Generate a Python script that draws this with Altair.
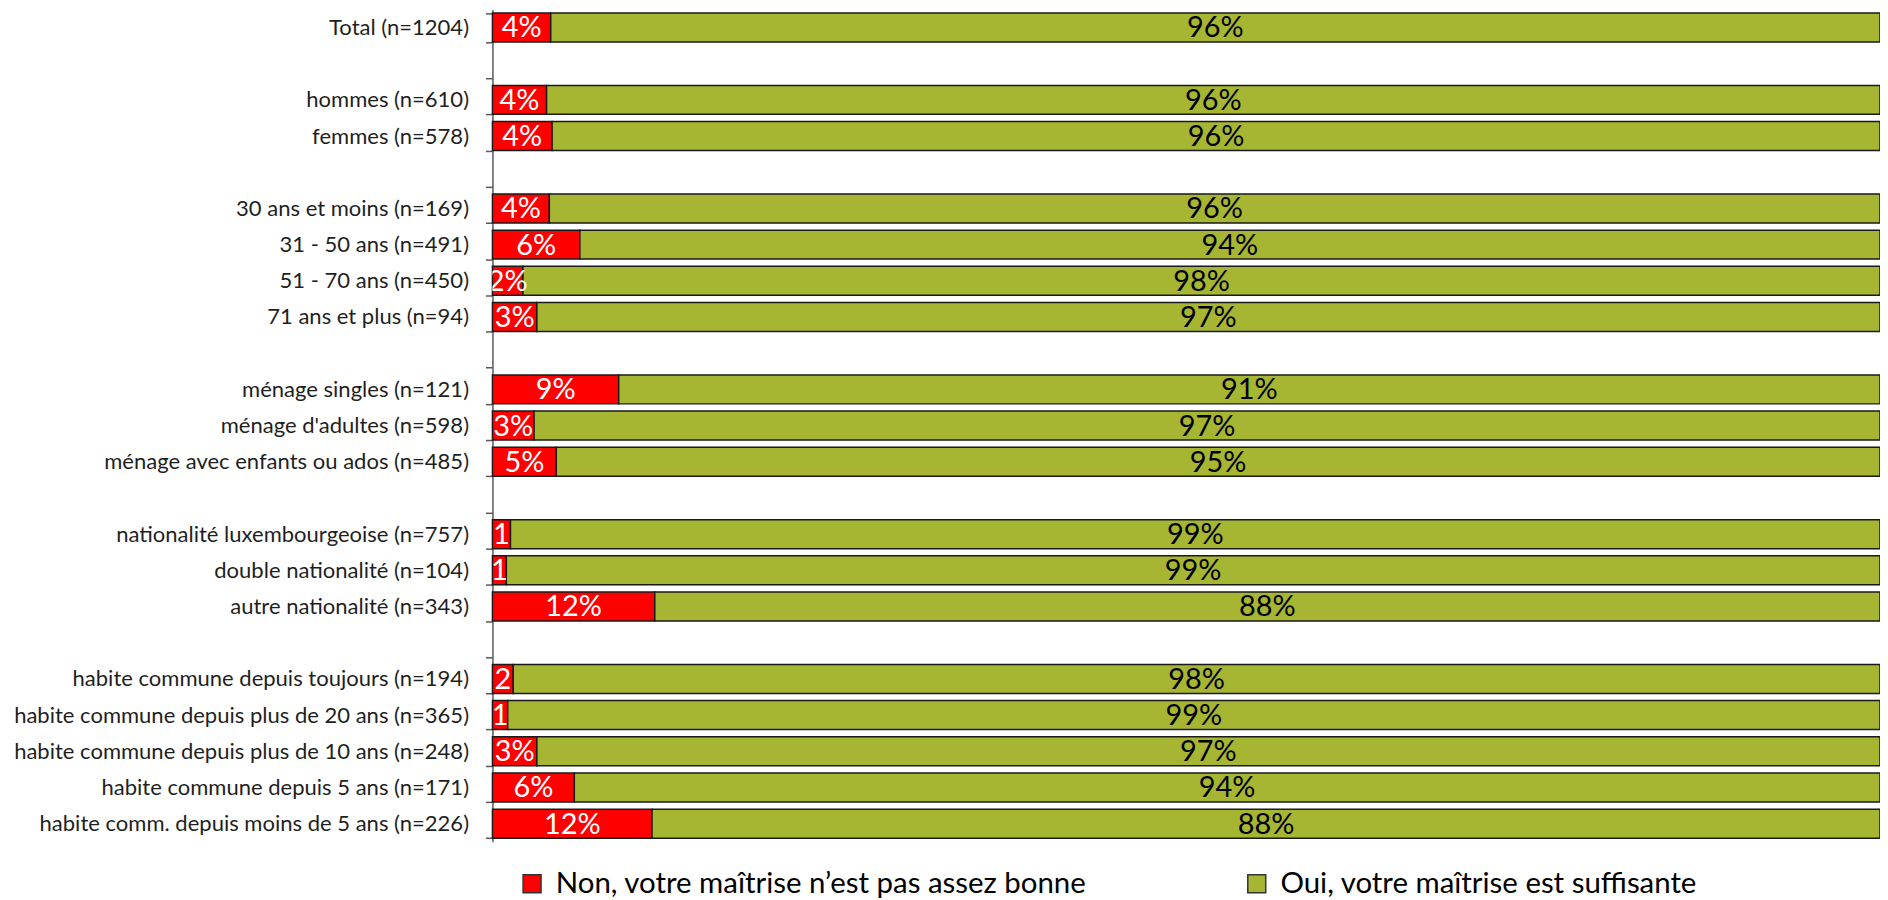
import altair as alt
import pandas as pd

# ---- data ----
order = [
    "Total (n=1204)", " ",
    "hommes (n=610)", "femmes (n=578)", "  ",
    "30 ans et moins (n=169)", "31 - 50 ans (n=491)", "51 - 70 ans (n=450)", "71 ans et plus (n=94)", "   ",
    "ménage singles (n=121)", "ménage d'adultes (n=598)", "ménage avec enfants ou ados (n=485)", "    ",
    "nationalité luxembourgeoise (n=757)", "double nationalité (n=104)", "autre nationalité (n=343)", "     ",
    "habite commune depuis toujours (n=194)", "habite commune depuis plus de 20 ans (n=365)",
    "habite commune depuis plus de 10 ans (n=248)", "habite commune depuis 5 ans (n=171)",
    "habite comm. depuis moins de 5 ans (n=226)",
]
rows = [c for c in order if c.strip()]

non_values = [4.2, 3.9, 4.3, 4.1, 6.3, 2.2, 3.2, 9.1, 3.0, 4.6, 1.3, 1.0, 11.7, 1.5, 1.1, 3.2, 5.9, 11.5]
oui_values = [95.8, 96.1, 95.7, 95.9, 93.7, 97.8, 96.8, 90.9, 97.0, 95.4, 98.7, 99.0, 88.3, 98.5, 98.9, 96.8, 94.1, 88.5]
non_labels = ["4%", "4%", "4%", "4%", "6%", "2%", "3%", "9%", "3%", "5%", "1", "1", "12%", "2", "1", "3%", "6%", "12%"]
oui_labels = ["96%", "96%", "96%", "96%", "94%", "98%", "97%", "91%", "97%", "95%", "99%", "99%", "88%", "98%", "99%", "97%", "94%", "88%"]

series = ["Non, votre maîtrise n’est pas assez bonne", "Oui, votre maîtrise est suffisante"]
colors = ["#FF0000", "#A6B632"]

recs = []
for i, cat in enumerate(rows):
    n, o = non_values[i], oui_values[i]
    recs.append(dict(cat=cat, series=series[0], start=0.0, end=n, mid=n / 2, label=non_labels[i], k=0))
    recs.append(dict(cat=cat, series=series[1], start=n, end=n + o, mid=n + o / 2, label=oui_labels[i], k=1))
df = pd.DataFrame(recs)

FONT = "Lato"
y_scale = alt.Scale(domain=order, paddingInner=0.2, paddingOuter=0.1)

y_enc = alt.Y(
    "cat:N",
    scale=y_scale,
    axis=alt.Axis(
        title=None, labelFont=FONT, labelFontSize=22.1, labelColor="#1f1f1f",
        labelLimit=700, labelPadding=17, tickBand="extent", tickSize=7,
        tickColor="#595959", tickWidth=1.5, domainColor="#595959", domainWidth=1.5,
        grid=False,
    ),
)
x_scale = alt.Scale(domain=[0, 100], nice=False, zero=True)

bars = alt.Chart(df).mark_bar(stroke="#1a1a1a", strokeWidth=1.5).encode(
    y=y_enc,
    x=alt.X("start:Q", scale=x_scale, axis=None),
    x2="end:Q",
    color=alt.Color(
        "series:N",
        scale=alt.Scale(domain=series, range=colors),
        legend=alt.Legend(
            title=None, orient="none", legendX=25, legendY=862, direction="horizontal",
            columns=2, columnPadding=155, symbolType="square", symbolSize=324,
            symbolStrokeColor="#333333", symbolStrokeWidth=1.5, symbolOpacity=1,
            labelFont=FONT, labelFontSize=29.5, labelColor="#000000", labelOffset=9,
            labelLimit=800,
        ),
    ),
    order=alt.Order("k:Q"),
)

text_non = alt.Chart(df).transform_filter(alt.datum.k == 0).mark_text(
    font=FONT, fontSize=29, color="white", baseline="middle", align="center", clip=True, dy=1
).encode(
    y=alt.Y("cat:N", scale=y_scale),
    x=alt.X("mid:Q", scale=x_scale),
    text="label:N",
)
text_oui = alt.Chart(df).transform_filter(alt.datum.k == 1).mark_text(
    font=FONT, fontSize=29, color="black", baseline="middle", align="center", dy=1
).encode(
    y=alt.Y("cat:N", scale=y_scale),
    x=alt.X("mid:Q", scale=x_scale),
    text="label:N",
)

chart = alt.layer(bars, text_non, text_oui).properties(
    width=1392, height=835,
    autosize=alt.AutoSizeParams(type="none"),
    padding={"left": 486, "top": 0, "right": 0, "bottom": 55},
    background="white",
).configure_view(stroke=None)

chart.save("out.html", embed_options={"renderer": "svg", "actions": False})
